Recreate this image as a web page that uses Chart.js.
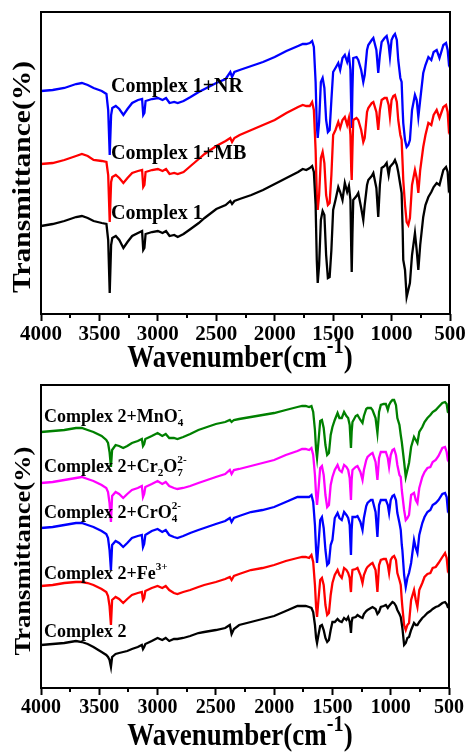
<!DOCTYPE html>
<html>
<head>
<meta charset="utf-8">
<script src="https://cdn.jsdelivr.net/npm/chart.js@4.4.0/dist/chart.umd.min.js"></script>
<style>
html, body { margin: 0; padding: 0; background: #fff; overflow: hidden; }
#wrap { position: relative; width: 467px; height: 753px; overflow: hidden; background: #fff; }
#wrap canvas { position: absolute; left: 0; }
#top { top: 0; }
#bottom { top: 376px; }
</style>
</head>
<body>
<div id="wrap">
<canvas id="top" width="490" height="376"></canvas>
<canvas id="bottom" width="490" height="377"></canvas>
</div>
<script>
// wavenumber (cm-1) sample points, shared by every spectrum
const wavenumbers = [
  4000, 3900, 3800, 3700, 3650, 3600, 3550, 3480, 3440, 3425,
  3412, 3400, 3390, 3360, 3330, 3295, 3260, 3220, 3170, 3135,
  3125, 3115, 3105, 3050, 3000, 2960, 2930, 2900, 2860, 2830,
  2780, 2720, 2650, 2600, 2500, 2420, 2380, 2365, 2345, 2300,
  2200, 2100, 2000, 1900, 1800, 1760, 1730, 1700, 1680, 1665,
  1650, 1640, 1632, 1620, 1605, 1590, 1575, 1560, 1545, 1530,
  1515, 1500, 1480, 1456, 1440, 1420, 1400, 1380, 1365, 1352,
  1345, 1341, 1335, 1328, 1300, 1285, 1260, 1242, 1230, 1210,
  1199, 1170, 1156, 1130, 1114, 1100, 1085, 1060, 1042, 1025,
  1014, 1000, 985, 971, 955, 943, 925, 914, 905, 900,
  885, 871, 857, 843, 825, 800, 785, 771, 755, 729,
  710, 685, 660, 640, 614, 590, 557, 534, 520, 510, 500
];

// top panel (offset transmittance, a.u.)
const complex1 = [
  88, 90, 93, 97, 98, 96, 93, 91, 90, 74,
  21, 69, 76, 78, 74, 66, 72, 78, 81, 83,
  64, 66, 80, 82, 83, 81, 83, 78, 79, 77,
  80, 85, 91, 96, 105, 109, 113, 110, 113, 115,
  119, 124, 130, 136, 142, 145, 144, 146, 148, 142,
  109, 54, 31, 49, 94, 103, 99, 59, 36, 37,
  64, 104, 114, 127, 122, 114, 131, 122, 128, 114,
  64, 42, 79, 114, 118, 121, 106, 94, 109, 129,
  134, 138, 141, 126, 97, 129, 146, 148, 151, 139,
  147, 149, 151, 154, 149, 142, 129, 121, 84, 54,
  44, 17, 24, 31, 59, 81, 64, 44, 69, 97,
  109, 117, 122, 127, 131, 129, 144, 147, 142, 124, 126
];
const complex1MB = [
  150, 151, 154, 158, 160, 158, 154, 153, 152, 139,
  92, 132, 137, 139, 136, 131, 136, 141, 143, 144,
  127, 129, 142, 144, 145, 143, 145, 140, 141, 140,
  142, 148, 155, 160, 168, 173, 176, 172, 176, 179,
  184, 189, 194, 201, 207, 209, 208, 208, 212, 204,
  164, 119, 104, 119, 156, 162, 151, 119, 109, 111,
  139, 179, 184, 192, 186, 194, 197, 189, 196, 179,
  144, 134, 164, 194, 196, 194, 184, 172, 176, 202,
  206, 211, 212, 202, 184, 204, 214, 216, 216, 209,
  197, 214, 218, 219, 212, 194, 179, 174, 149, 134,
  109, 92, 89, 96, 129, 144, 136, 121, 144, 167,
  179, 191, 189, 199, 204, 196, 207, 209, 202, 184, 187
];
const complex1NR = [
  223, 224, 226, 230, 231, 229, 226, 223, 220, 204,
  159, 199, 206, 208, 205, 199, 205, 211, 214, 215,
  199, 201, 213, 215, 216, 214, 216, 211, 212, 211,
  213, 217, 222, 225, 231, 235, 242, 237, 242, 244,
  248, 252, 257, 263, 268, 270, 270, 271, 273, 267,
  232, 189, 176, 192, 232, 236, 226, 194, 182, 184,
  214, 242, 246, 251, 244, 256, 259, 252, 259, 244,
  204, 186, 224, 256, 257, 254, 244, 232, 239, 264,
  269, 274, 276, 264, 241, 259, 272, 276, 278, 269,
  257, 274, 278, 280, 274, 254, 236, 232, 204, 191,
  174, 167, 169, 174, 204, 219, 214, 197, 214, 241,
  249, 257, 254, 262, 264, 256, 269, 271, 264, 251, 254
];

// bottom panel (offset transmittance, a.u.)
const complex2 = [
  43, 44, 45, 47, 46, 44, 41, 36, 33, 31,
  28, 21, 31, 34, 35, 36, 37, 39, 41, 43,
  39, 41, 44, 47, 50, 48, 50, 47, 49, 49,
  50, 52, 55, 56, 58, 60, 63, 54, 59, 63,
  66, 69, 72, 77, 82, 82, 82, 81, 80, 76,
  63, 50, 45, 53, 62, 63, 58, 50, 46, 48,
  58, 66, 66, 69, 67, 66, 70, 68, 71, 66,
  60, 55, 66, 70, 71, 73, 71, 70, 74, 77,
  78, 80, 81, 79, 74, 76, 81, 82, 83, 80,
  82, 84, 86, 85, 82, 78, 74, 71, 64, 60,
  43, 45, 50, 51, 58, 65, 63, 63, 66, 70,
  72, 75, 77, 79, 81, 82, 85, 86, 84, 81, 81
];
const complex2Fe = [
  102, 103, 105, 106, 106, 105, 103, 99, 96, 92,
  82, 63, 88, 91, 89, 85, 89, 93, 95, 96,
  88, 90, 97, 100, 102, 100, 102, 98, 95, 94,
  96, 98, 101, 103, 106, 109, 111, 108, 112, 114,
  118, 120, 123, 127, 130, 131, 131, 130, 133, 126,
  103, 81, 71, 88, 108, 110, 103, 83, 73, 75,
  93, 105, 113, 118, 113, 110, 120, 118, 115, 110,
  100, 96, 110, 118, 119, 120, 113, 105, 113, 119,
  121, 124, 125, 118, 96, 123, 128, 129, 129, 123,
  115, 128, 131, 132, 128, 115, 108, 103, 88, 81,
  63, 58, 63, 65, 88, 98, 88, 81, 98, 105,
  111, 114, 115, 120, 121, 125, 131, 135, 130, 118, 120
];
const complex2CrO4 = [
  160, 161, 163, 165, 165, 163, 161, 157, 154, 150,
  138, 118, 143, 147, 145, 141, 145, 150, 152, 153,
  141, 144, 153, 157, 159, 156, 158, 153, 151, 150,
  152, 155, 158, 160, 164, 167, 170, 166, 170, 172,
  176, 178, 181, 186, 191, 191, 191, 191, 193, 186,
  163, 138, 125, 143, 168, 171, 160, 138, 123, 125,
  143, 148, 170, 175, 170, 168, 176, 173, 170, 163,
  143, 133, 158, 171, 171, 172, 166, 158, 170, 182,
  185, 188, 188, 176, 151, 183, 188, 188, 188, 183,
  175, 188, 192, 193, 188, 175, 165, 158, 143, 138,
  113, 101, 110, 115, 125, 148, 140, 135, 153, 165,
  171, 176, 178, 183, 185, 188, 194, 195, 191, 178, 180
];
const complex2Cr2O7 = [
  205, 206, 208, 210, 211, 209, 207, 203, 200, 196,
  185, 166, 192, 196, 194, 190, 194, 198, 200, 202,
  191, 194, 201, 204, 207, 204, 206, 202, 200, 199,
  200, 202, 205, 207, 211, 214, 218, 214, 218, 219,
  222, 225, 228, 233, 237, 239, 239, 238, 240, 233,
  213, 193, 183, 198, 220, 222, 213, 193, 181, 183,
  203, 211, 218, 223, 218, 216, 223, 221, 218, 210,
  196, 188, 208, 218, 221, 222, 216, 208, 218, 228,
  231, 234, 235, 226, 208, 230, 236, 236, 236, 230,
  221, 233, 238, 239, 233, 223, 213, 211, 198, 193,
  178, 168, 170, 173, 193, 195, 188, 185, 200, 211,
  216, 220, 221, 226, 228, 232, 240, 241, 236, 228, 226
];
const complex2MnO4 = [
  256, 257, 258, 260, 260, 258, 256, 252, 248, 245,
  236, 221, 238, 243, 242, 240, 242, 245, 247, 249,
  242, 244, 249, 252, 255, 252, 254, 250, 250, 249,
  251, 254, 258, 260, 264, 266, 268, 266, 268, 269,
  271, 273, 275, 278, 281, 282, 282, 281, 282, 276,
  258, 238, 230, 246, 267, 268, 260, 243, 233, 235,
  253, 261, 268, 275, 270, 270, 276, 272, 270, 263,
  248, 240, 256, 266, 272, 273, 268, 265, 272, 279,
  280, 280, 278, 270, 255, 276, 283, 284, 284, 278,
  283, 286, 288, 288, 283, 270, 263, 253, 246, 241,
  226, 211, 218, 225, 241, 251, 248, 245, 256, 261,
  266, 270, 273, 276, 278, 281, 285, 286, 284, 276, 275
];

const xTicks = [4000, 3500, 3000, 2500, 2000, 1500, 1000, 500];
const xMinorTicks = [3750, 3250, 2750, 2250, 1750, 1250, 750];

const FONT = '"Liberation Serif", "DejaVu Serif", serif';

function toPoints(values) {
    return wavenumbers.map((w, i) => ({ x: w, y: values[i] }));
}

// parts: [text, 'sub'|'sup'|'', 'stack'?, scale?]
function partSize(p, size) {
    return p[1] ? size * (p[3] || 0.62) : size;
}

function drawRich(ctx, x, y, parts, size) {
    ctx.textBaseline = 'middle';
    ctx.textAlign = 'left';
    let cx = x, lastX = x;
    parts.forEach(p => {
        const fs = partSize(p, size);
        let dy = 0;
        if (p[1] === 'sub') dy = size * 0.32;
        if (p[1] === 'sup') dy = -size * 0.4;
        ctx.font = 'bold ' + fs + 'px ' + FONT;
        const startX = p[2] === 'stack' ? lastX : cx;
        ctx.fillText(p[0], startX, y + dy);
        lastX = startX;
        cx = Math.max(cx, startX + ctx.measureText(p[0]).width);
    });
    return cx - x;
}

function richWidth(ctx, parts, size) {
    let cx = 0, lastX = 0;
    parts.forEach(p => {
        ctx.font = 'bold ' + partSize(p, size) + 'px ' + FONT;
        const startX = p[2] === 'stack' ? lastX : cx;
        lastX = startX;
        cx = Math.max(cx, startX + ctx.measureText(p[0]).width);
    });
    return cx;
}

const decor = {
    id: 'decor',
    afterDraw(chart, args, opts) {
        const ctx = chart.ctx;
        const a = chart.chartArea;
        const xs = chart.scales.x;
        ctx.save();
        // frame
        ctx.strokeStyle = '#000';
        ctx.lineWidth = 2;
        ctx.strokeRect(a.left, a.top, a.right - a.left, a.bottom - a.top);
        // minor ticks
        xMinorTicks.forEach(v => {
            const px = Math.round(xs.getPixelForValue(v));
            ctx.beginPath();
            ctx.moveTo(px, a.bottom);
            ctx.lineTo(px, a.bottom + 4);
            ctx.stroke();
        });
        // curve labels
        opts.labels.forEach(l => {
            ctx.fillStyle = l.color;
            drawRich(ctx, l.x, l.y, l.parts, l.size);
        });
        // x title
        ctx.fillStyle = '#000';
        const xt = [['Wavenumber(cm', ''], ['-1', 'sup', '', 0.75], [')', '']];
        const xtSize = 27;
        const w = richWidth(ctx, xt, xtSize);
        ctx.save();
        ctx.translate(240 - w / 2, opts.xTitleY);
        ctx.scale(1, 1.15);
        drawRich(ctx, 0, 0, xt, xtSize);
        ctx.restore();
        // y title
        ctx.save();
        ctx.translate(24, opts.yTitleY);
        ctx.rotate(-Math.PI / 2);
        ctx.scale(1.18, 1);
        ctx.font = 'bold ' + opts.yTitleSize + 'px ' + FONT;
        ctx.textAlign = 'center';
        ctx.textBaseline = 'middle';
        ctx.fillText('Transmittance(%)', 0, 0);
        ctx.restore();
        ctx.restore();
    }
};

function makeChart(id, datasets, cfg) {
    const lines = datasets.map(d => ({
        data: toPoints(d.values),
        borderColor: d.color,
        borderWidth: 2.3,
        pointRadius: 0,
        tension: 0,
        fill: false
    }));
    return new Chart(document.getElementById(id), {
        type: 'line',
        data: { datasets: lines },
        options: {
            responsive: false,
            animation: false,
            events: [],
            layout: { padding: { left: 41, right: cfg.padRight, top: cfg.padTop, bottom: 0 } },
            scales: {
                x: {
                    type: 'linear',
                    reverse: true,
                    min: 500,
                    max: 4000,
                    position: 'bottom',
                    afterBuildTicks: s => { s.ticks = xTicks.map(v => ({ value: v })); },
                    afterFit: s => { s.height = cfg.xHeight; },
                    border: { display: false },
                    grid: {
                        drawOnChartArea: false,
                        drawTicks: true,
                        tickLength: 7,
                        tickWidth: 2,
                        tickColor: '#000'
                    },
                    ticks: {
                        autoSkip: false,
                        maxRotation: 0,
                        padding: 1,
                        color: '#000',
                        font: { family: FONT, size: cfg.tickSize, weight: 'bold' },
                        callback: v => String(v)
                    }
                },
                y: { display: false, min: 0, max: cfg.yMax }
            },
            plugins: {
                legend: { display: false },
                tooltip: { enabled: false },
                decor: cfg.decor
            }
        },
        plugins: [decor]
    });
}

makeChart('top', [
    { values: complex1, color: '#000000' },
    { values: complex1MB, color: '#ff0000' },
    { values: complex1NR, color: '#0000ff' }
], {
    padRight: 40, padTop: 12, xHeight: 62, yMax: 302, tickSize: 21,
    decor: {
        xTitleY: 359, yTitleY: 177, yTitleSize: 25,
        labels: [
            { x: 111, y: 87, size: 20, color: '#000', parts: [['Complex 1+NR', '']] },
            { x: 111, y: 154, size: 20, color: '#000', parts: [['Complex 1+MB', '']] },
            { x: 111, y: 214, size: 20, color: '#000', parts: [['Complex 1', '']] }
        ]
    }
});

makeChart('bottom', [
    { values: complex2, color: '#000000' },
    { values: complex2Fe, color: '#ff0000' },
    { values: complex2CrO4, color: '#0000ff' },
    { values: complex2Cr2O7, color: '#ff00ff' },
    { values: complex2MnO4, color: '#008000' }
], {
    padRight: 41, padTop: 9, xHeight: 65, yMax: 303, tickSize: 20,
    decor: {
        xTitleY: 361, yTitleY: 175, yTitleSize: 22.5,
        labels: [
            { x: 44, y: 41, size: 18, color: '#000', parts: [['Complex 2+MnO', ''], ['4', 'sub'], ['-', 'sup', 'stack']] },
            { x: 44, y: 91, size: 18, color: '#000', parts: [['Complex 2+Cr', ''], ['2', 'sub'], ['O', ''], ['7', 'sub'], ['2-', 'sup', 'stack']] },
            { x: 44, y: 137, size: 18, color: '#000', parts: [['Complex 2+CrO', ''], ['4', 'sub'], ['2-', 'sup', 'stack']] },
            { x: 44, y: 198, size: 18, color: '#000', parts: [['Complex 2+Fe', ''], ['3+', 'sup']] },
            { x: 44, y: 256, size: 18, color: '#000', parts: [['Complex 2', '']] }
        ]
    }
});
</script>
</body>
</html>
